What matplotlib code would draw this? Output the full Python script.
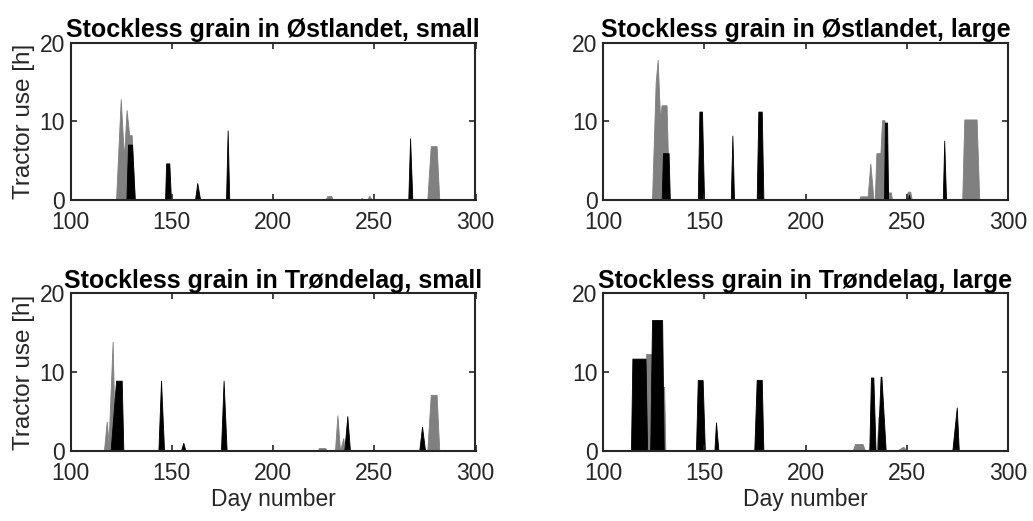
import numpy as np
import matplotlib.pyplot as plt

plt.rcParams['font.family'] = ['Liberation Sans', 'DejaVu Sans']

# --- data: (day, tractor hours) outline points of each area ---
# Stockless grain in Østlandet, small
ost_small_gray_x = [122.5, 124.8, 126.4, 127.7, 129.0, 130.2, 131.8,
                    226.0, 226.8, 228.8, 229.5,
                    243.0, 243.8, 244.6, 246.6, 247.6, 248.7,
                    276.2, 277.9, 280.8, 282.1]
ost_small_gray_y = [0, 12.8, 5.3, 11.4, 8.2, 8.2, 0,
                    0, 0.45, 0.45, 0,
                    0, 0.2, 0, 0, 0.5, 0,
                    0, 6.8, 6.8, 0]
ost_small_black_x = [127.6, 128.4, 130.4, 131.7,
                     146.7, 147.2, 148.8, 149.6,
                     161.5, 162.6, 164.0,
                     176.8, 177.6, 178.4,
                     266.8, 267.7, 268.8]
ost_small_black_y = [0, 7.0, 7.0, 0,
                     0, 4.6, 4.6, 0,
                     0, 2.1, 0,
                     0, 8.8, 0,
                     0, 7.8, 0]

# Stockless grain in Østlandet, large
ost_large_gray_x = [124.2, 126.0, 127.0, 128.2, 128.9, 131.4, 132.6,
                    226.5, 227.0, 230.7, 232.0, 233.6, 234.2, 235.0, 237.0,
                    237.8, 239.0, 240.6, 242.2, 242.7,
                    249.6, 250.5, 251.7, 252.5,
                    277.4, 278.4, 284.5, 285.8]
ost_large_gray_y = [0, 14.9, 17.8, 10.2, 12.0, 12.0, 0,
                    0, 0.4, 0.4, 4.6, 0, 0, 5.9, 5.9,
                    10.1, 10.1, 0.9, 0.9, 0,
                    0, 1.0, 1.0, 0,
                    0, 10.2, 10.2, 0]
ost_large_black_x = [129.0, 129.6, 132.4, 133.0,
                     146.8, 147.6, 148.9, 149.9,
                     163.1, 163.9, 164.7,
                     175.9, 176.7, 178.4, 179.2,
                     238.8, 239.2, 240.3, 240.8,
                     250.6, 251.1, 251.6,
                     267.8, 268.5, 269.4]
ost_large_black_y = [0, 5.9, 5.9, 0,
                     0, 11.2, 11.2, 0,
                     0, 8.15, 0,
                     0, 11.2, 11.2, 0,
                     0, 9.8, 9.8, 0,
                     0, 0.6, 0,
                     0, 7.5, 0]

# Stockless grain in Trøndelag, small
tro_small_gray_x = [116.5, 117.9, 118.8, 120.8, 122.0,
                    221.9, 222.8, 225.8, 226.5,
                    230.6, 231.8, 233.1, 234.7, 235.4,
                    276.2, 277.9, 280.8, 282.1]
tro_small_gray_y = [0, 3.7, 1.0, 13.85, 0,
                    0, 0.35, 0.35, 0,
                    0, 4.5, 0, 1.6, 0,
                    0, 7.1, 7.1, 0]
tro_small_black_x = [119.8, 122.5, 125.3, 126.1,
                     143.4, 144.7, 146.2,
                     154.5, 155.7, 156.8,
                     174.3, 175.6, 177.1,
                     235.2, 236.7, 238.0,
                     272.2, 273.6, 275.1]
tro_small_black_y = [0, 8.9, 8.9, 0,
                     0, 8.9, 0,
                     0, 1.0, 0,
                     0, 8.9, 0,
                     0, 4.4, 0,
                     0, 3.05, 0]

# Stockless grain in Trøndelag, large
tro_large_gray_x = [120.5, 121.3, 124.5, 125.0, 130.2, 130.8,
                    223.3, 224.4, 228.2, 229.4,
                    235.2, 236.0, 236.8,
                    245.0, 248.3, 250.0]
tro_large_gray_y = [0, 12.3, 12.3, 8.1, 8.1, 0,
                    0, 0.85, 0.85, 0,
                    0, 4.3, 0,
                    0, 0.5, 0]
tro_large_black_x = [113.8, 114.5, 121.0, 121.8, 123.3, 124.2, 129.2, 130.0,
                     145.9, 146.8, 149.2, 150.3,
                     155.0, 155.8, 157.0,
                     174.7, 175.9, 178.4, 179.2,
                     231.5, 232.3, 233.5, 234.6,
                     235.6, 237.1, 237.5, 239.6,
                     272.5, 274.7, 275.7]
tro_large_black_y = [0, 11.7, 11.7, 0, 0, 16.6, 16.6, 0,
                     0, 9.0, 9.0, 0,
                     0, 3.6, 0,
                     0, 9.0, 9.0, 0,
                     0, 9.3, 9.3, 0,
                     0, 9.4, 9.4, 0,
                     0, 5.5, 0]

titles = ['Stockless grain in Østlandet, small', 'Stockless grain in Østlandet, large',
          'Stockless grain in Trøndelag, small', 'Stockless grain in Trøndelag, large']
panels = [(ost_small_gray_x, ost_small_gray_y, ost_small_black_x, ost_small_black_y),
          (ost_large_gray_x, ost_large_gray_y, ost_large_black_x, ost_large_black_y),
          (tro_small_gray_x, tro_small_gray_y, tro_small_black_x, tro_small_black_y),
          (tro_large_gray_x, tro_large_gray_y, tro_large_black_x, tro_large_black_y)]
x_ticks = [100, 150, 200, 250, 300]
y_ticks = [0, 10, 20]

W, H = 1033, 521
fig = plt.figure(figsize=(W / 100, H / 100), dpi=100)
# axes boxes in pixels: left, top, right, bottom
boxes = [(70.5, 42.5, 475.5, 199.5), (603, 42.5, 1008, 199.5),
         (70.5, 293.3, 475.5, 450.7), (603, 293.3, 1008, 450.7)]
axc = '#262626'

for i, (box, title, (gx, gy, bx, by)) in enumerate(zip(boxes, titles, panels)):
    l, t, r, b = box
    ax = fig.add_axes([l / W, 1 - b / H, (r - l) / W, (b - t) / H])
    ax.fill_between(gx, gy, 0, color='#808080', linewidth=0.6)
    ax.fill_between(bx, by, 0, color='black', linewidth=0.6)
    ax.set_xlim(100, 300)
    ax.set_ylim(0, 20)
    ax.set_xticks(x_ticks)
    ax.set_yticks(y_ticks)
    ax.tick_params(direction='in', top=True, right=True, length=4, width=1.2,
                   colors=axc, labelsize=16.5)
    ax.tick_params(axis='x', pad=8)
    ax.tick_params(axis='y', pad=4)
    for s in ax.spines.values():
        s.set_linewidth(1.5)
        s.set_color(axc)
    ax.set_title(title, fontsize=18, fontweight='bold', pad=4)
    if i % 2 == 0:
        ax.set_ylabel('Tractor use [h]', fontsize=17.5, color=axc, labelpad=3)
    if i >= 2:
        ax.set_xlabel('Day number', fontsize=16.5, color=axc, labelpad=2)

fig.savefig('out.png', dpi=100)
